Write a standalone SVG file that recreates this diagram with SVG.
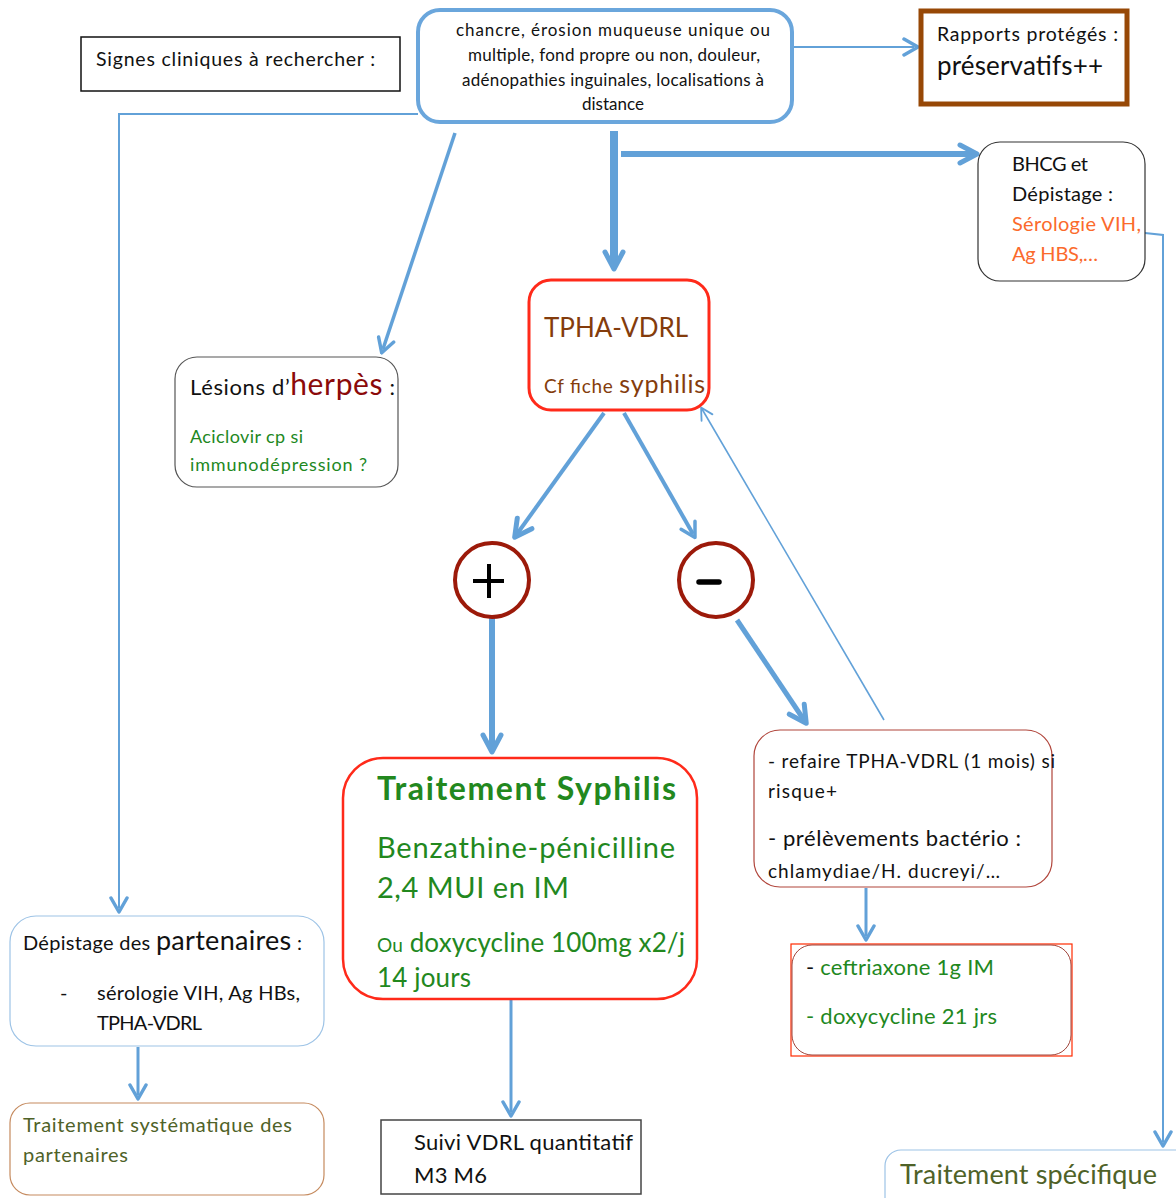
<svg xmlns="http://www.w3.org/2000/svg" width="1176" height="1198" viewBox="0 0 1176 1198">
<style>
text{font-family:Lato,"Open Sans","Liberation Sans",sans-serif;fill:#111}
.c{stroke:#62a1d8;fill:none;stroke-linecap:butt}
.g{fill:#22881e}
.ol{fill:#4f6228}
.br{fill:#843c0c}
</style>
<defs>
<marker id="a" viewBox="0 0 20 20" markerWidth="20" markerHeight="20" refX="14" refY="10" orient="auto" markerUnits="userSpaceOnUse">
<path d="M4,2 L18,10 L4,18" fill="none" stroke="#62a1d8" stroke-width="3.5" stroke-linecap="round" stroke-linejoin="round"/>
</marker>
<marker id="b" viewBox="0 0 24 24" markerWidth="24" markerHeight="24" refX="17" refY="12" orient="auto" markerUnits="userSpaceOnUse">
<path d="M4,3 L21,12 L4,21" fill="none" stroke="#62a1d8" stroke-width="5" stroke-linecap="round" stroke-linejoin="round"/>
</marker>
<marker id="t" viewBox="0 0 20 20" markerWidth="18" markerHeight="18" refX="16" refY="10" orient="auto" markerUnits="userSpaceOnUse">
<path d="M5,3 L18,10 L5,17" fill="none" stroke="#62a1d8" stroke-width="2" stroke-linecap="round" stroke-linejoin="round"/>
</marker>
</defs>

<g id="connectors">
<line class="c" x1="792" y1="47" x2="914" y2="47" stroke-width="2" marker-end="url(#a)"/>
<polyline class="c" points="418,114 119,114 119,908" stroke-width="2" marker-end="url(#a)"/>
<line class="c" x1="455" y1="133" x2="383" y2="349" stroke-width="3.5" marker-end="url(#a)"/>
<line class="c" x1="614" y1="131" x2="614" y2="265" stroke-width="8" marker-end="url(#b)"/>
<line class="c" x1="621" y1="154" x2="973" y2="154" stroke-width="6" marker-end="url(#b)"/>
<polyline class="c" points="1145,233 1163,235 1163,1142" stroke-width="2" marker-end="url(#a)"/>
<line class="c" x1="604" y1="413" x2="517" y2="534" stroke-width="4" marker-end="url(#b)"/>
<line class="c" x1="624" y1="413" x2="693" y2="534" stroke-width="4" marker-end="url(#a)"/>
<line class="c" x1="492" y1="618" x2="492" y2="748" stroke-width="6" marker-end="url(#b)"/>
<line class="c" x1="737" y1="620" x2="804" y2="720" stroke-width="5" marker-end="url(#b)"/>
<line class="c" x1="884" y1="720" x2="702" y2="409" stroke-width="1.6" marker-end="url(#t)"/>
<line class="c" x1="866" y1="888" x2="866" y2="936" stroke-width="3" marker-end="url(#a)"/>
<line class="c" x1="511" y1="1000" x2="511" y2="1112" stroke-width="3" marker-end="url(#a)"/>
<line class="c" x1="138" y1="1047" x2="138" y2="1095" stroke-width="3" marker-end="url(#a)"/>
</g>

<g id="signes">
<rect x="81" y="37" width="319" height="54" fill="#fff" stroke="#111" stroke-width="1.5"/>
<text x="96" y="66" font-size="19.5" textLength="279">Signes cliniques à rechercher :</text>
</g>

<g id="clinique">
<rect x="418" y="10" width="374" height="112" rx="22" fill="#fff" stroke="#6aa6dc" stroke-width="4"/>
<g font-size="17">
<text x="456" y="36" textLength="314">chancre, érosion muqueuse unique ou</text>
<text x="468" y="61" textLength="292">multiple, fond propre ou non, douleur,</text>
<text x="462" y="86" textLength="302">adénopathies inguinales,  localisations à</text>
<text x="582" y="110" textLength="62">distance</text>
</g>
</g>

<g id="rapports">
<rect x="921" y="11" width="206" height="93" fill="#fff" stroke="#974806" stroke-width="5"/>
<text x="937" y="41" font-size="19.5" textLength="181">Rapports protégés :</text>
<text x="937" y="75" font-size="26" textLength="166">préservatifs++</text>
</g>

<g id="bhcg">
<rect x="978" y="142" width="167" height="139" rx="22" fill="#fff" stroke="#333" stroke-width="1.2"/>
<g font-size="20">
<text x="1012" y="171" textLength="76">BHCG et</text>
<text x="1012" y="201" textLength="101">Dépistage :</text>
<text x="1012" y="231" style="fill:#fb6a2c" textLength="129">Sérologie VIH,</text>
<text x="1012" y="261" style="fill:#fb6a2c" textLength="86">Ag HBS,…</text>
</g>
</g>

<g id="tpha">
<rect x="529" y="280" width="180" height="130" rx="22" fill="#fff" stroke="#ff2a1a" stroke-width="3"/>
<text x="544" y="337" font-size="26" class="br" textLength="144">TPHA-VDRL</text>
<text x="544" y="393" class="br" textLength="161"><tspan font-size="19">Cf fiche </tspan><tspan font-size="25">syphilis</tspan></text>
</g>

<g id="herpes">
<rect x="175" y="357" width="223" height="130" rx="22" fill="#fff" stroke="#555" stroke-width="1.2"/>
<text x="190" y="395" textLength="205"><tspan font-size="22">Lésions d’</tspan><tspan font-size="30" style="fill:#8b0a0a">herpès</tspan><tspan font-size="22"> :</tspan></text>
<text x="190" y="443" font-size="18" class="g" textLength="113">Aciclovir cp si</text>
<text x="190" y="471" font-size="18" class="g" textLength="177">immunodépression ?</text>
</g>

<g id="plus">
<circle cx="492" cy="580" r="37" fill="#fff" stroke="#9c1a0a" stroke-width="4"/>
<path d="M473,581 H504 M489,564 V598" stroke="#000" stroke-width="4"/>
</g>

<g id="moins">
<circle cx="716" cy="580" r="37" fill="#fff" stroke="#9c1a0a" stroke-width="4"/>
<path d="M699,582 H719" stroke="#000" stroke-width="5.5" stroke-linecap="round"/>
</g>

<g id="traitement-syphilis">
<rect x="343" y="758" width="354" height="241" rx="40" fill="#fff" stroke="#ff2a1a" stroke-width="2.5"/>
<text x="377" y="800" font-size="32" font-weight="bold" class="g" textLength="299">Traitement Syphilis</text>
<text x="377" y="858" font-size="29" class="g" textLength="298">Benzathine-pénicilline</text>
<text x="377" y="898" font-size="29" class="g" textLength="192">2,4 MUI en IM</text>
<text x="377" y="952" class="g" textLength="308"><tspan font-size="19">Ou</tspan><tspan font-size="26"> doxycycline 100mg x2/j</tspan></text>
<text x="377" y="987" font-size="26" class="g" textLength="94">14 jours</text>
</g>

<g id="refaire">
<rect x="754" y="730" width="298" height="157" rx="26" fill="#fff" stroke="#b0443a" stroke-width="1.2"/>
<text x="768" y="768" font-size="19" textLength="287">- refaire TPHA-VDRL (1 mois) si</text>
<text x="768" y="798" font-size="19" textLength="69">risque+</text>
<text x="768" y="846" font-size="22" textLength="253">- prélèvements bactério :</text>
<text x="768" y="878" font-size="19" textLength="232">chlamydiae/H. ducreyi/…</text>
</g>

<g id="ceftriaxone">
<rect x="791" y="944" width="281" height="112" fill="#fff" stroke="#ff2a00" stroke-width="1.2"/>
<rect x="792" y="945" width="279" height="110" rx="20" fill="none" stroke="#a0443a" stroke-width="1"/>
<text x="806" y="975" font-size="22" textLength="188">- <tspan class="g">ceftriaxone 1g IM</tspan></text>
<text x="806" y="1024" font-size="22" class="g" textLength="191">- doxycycline 21 jrs</text>
</g>

<g id="depistage">
<rect x="10" y="916" width="314" height="130" rx="26" fill="#fff" stroke="#9dc3e6" stroke-width="1.2"/>
<text x="23" y="950" textLength="279"><tspan font-size="20">Dépistage des </tspan><tspan font-size="27">partenaires</tspan><tspan font-size="20"> :</tspan></text>
<text x="60" y="1000" font-size="20">-</text>
<text x="97" y="1000" font-size="20" textLength="203">sérologie VIH, Ag HBs,</text>
<text x="97" y="1030" font-size="20" textLength="105">TPHA-VDRL</text>
</g>

<g id="traitement-partenaires">
<rect x="10" y="1103" width="314" height="92" rx="20" fill="#fff" stroke="#c58a5e" stroke-width="1.2"/>
<text x="23" y="1132" font-size="20" class="ol" textLength="269">Traitement systématique des</text>
<text x="23" y="1162" font-size="20" class="ol" textLength="105">partenaires</text>
</g>

<g id="suivi">
<rect x="381" y="1120" width="260" height="74" fill="#fff" stroke="#444" stroke-width="1.5"/>
<text x="414" y="1150" font-size="22" textLength="219">Suivi VDRL quantitatif</text>
<text x="414" y="1183" font-size="22" textLength="73">M3 M6</text>
</g>

<g id="traitement-specifique">
<rect x="885" y="1150" width="320" height="80" rx="16" fill="#fff" stroke="#9dc3e6" stroke-width="1.2"/>
<text x="900" y="1184" font-size="27" class="ol" textLength="257">Traitement spécifique</text>
</g>
</svg>
